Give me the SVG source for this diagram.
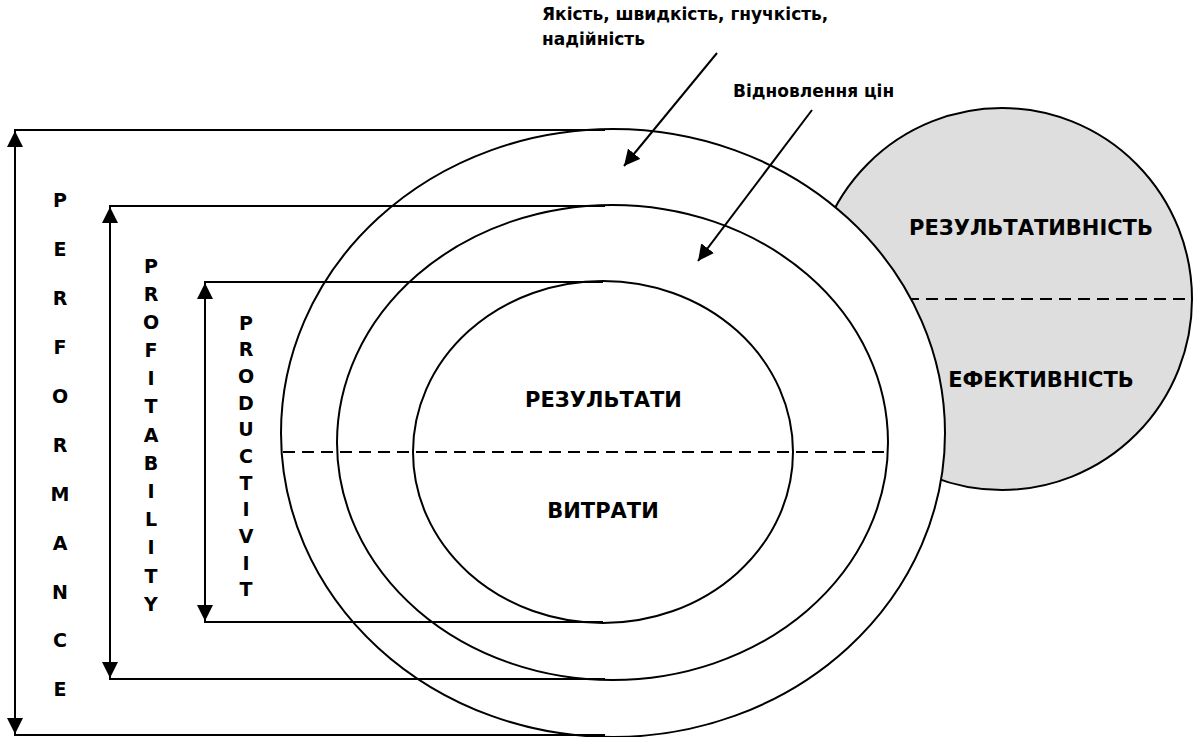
<svg xmlns="http://www.w3.org/2000/svg" width="1195" height="737" viewBox="0 0 1195 737">
<style>
.s{fill:none;stroke:#000;stroke-width:2}
.e{fill:#fff;stroke:#000;stroke-width:2}
.d{fill:none;stroke:#000;stroke-width:2;stroke-dasharray:12 7}
text{font-family:"DejaVu Sans","Noto Sans",sans-serif;font-weight:bold;fill:#000}
.v{font-size:19px;text-anchor:middle}
.b{font-size:21px;text-anchor:middle}
.t{font-size:17px}
</style>
<defs>
<marker id="ah" viewBox="0 0 10 10" refX="10" refY="5" markerWidth="16" markerHeight="16" markerUnits="userSpaceOnUse" orient="auto-start-reverse">
<path d="M0,0 L10,5 L0,10 z" fill="#000"/>
</marker>
</defs>
<g id="gray-circle">
<ellipse cx="1002" cy="299" rx="190" ry="191" fill="#dedede" stroke="#000" stroke-width="2"/>
<line class="d" x1="812" y1="299" x2="1192" y2="299"/>
<text class="b" x="1031" y="235">РЕЗУЛЬТАТИВНІСТЬ</text>
<text class="b" x="1041" y="387">ЕФЕКТИВНІСТЬ</text>
</g>
<g id="outer-ellipse"><ellipse class="e" cx="613" cy="433" rx="332" ry="304"/></g>
<g id="middle-ellipse"><ellipse class="e" cx="612.5" cy="442.5" rx="275.5" ry="237.5"/></g>
<g id="inner-ellipse"><ellipse class="e" cx="603" cy="452" rx="190" ry="171"/>
<text class="b" x="603.5" y="407">РЕЗУЛЬТАТИ</text>
<text class="b" x="603" y="518">ВИТРАТИ</text>
</g>
<g id="connectors">
<line class="d" x1="283" y1="452" x2="888" y2="452"/>
<polyline class="s" points="605,130 15,130 15,735 605,735"/>
<line class="s" x1="15" y1="131" x2="15" y2="734" marker-start="url(#ah)" marker-end="url(#ah)"/>
<polyline class="s" points="605,206 110,206 110,679 605,679"/>
<line class="s" x1="110" y1="207" x2="110" y2="678" marker-start="url(#ah)" marker-end="url(#ah)"/>
<polyline class="s" points="603,282 205,282 205,622 603,622"/>
<line class="s" x1="205" y1="283" x2="205" y2="621" marker-start="url(#ah)" marker-end="url(#ah)"/>
<line class="s" x1="717" y1="53" x2="624" y2="166" marker-end="url(#ah)"/>
<line class="s" x1="812" y1="110" x2="698" y2="261" marker-end="url(#ah)"/>
</g>
<g id="performance">
<text class="v" x="60" y="207">P</text>
<text class="v" x="60" y="256">E</text>
<text class="v" x="60" y="305">R</text>
<text class="v" x="60" y="354">F</text>
<text class="v" x="60" y="403">O</text>
<text class="v" x="60" y="452">R</text>
<text class="v" x="60" y="501">M</text>
<text class="v" x="60" y="550">A</text>
<text class="v" x="60" y="599">N</text>
<text class="v" x="60" y="647">C</text>
<text class="v" x="60" y="696">E</text>
</g>
<g id="profitability">
<text class="v" x="151" y="273">P</text>
<text class="v" x="151" y="301">R</text>
<text class="v" x="151" y="329">O</text>
<text class="v" x="151" y="357">F</text>
<text class="v" x="151" y="385">I</text>
<text class="v" x="151" y="413">T</text>
<text class="v" x="151" y="442">A</text>
<text class="v" x="151" y="470">B</text>
<text class="v" x="151" y="498">I</text>
<text class="v" x="151" y="526">L</text>
<text class="v" x="151" y="554">I</text>
<text class="v" x="151" y="583">T</text>
<text class="v" x="151" y="611">Y</text>
</g>
<g id="productivit">
<text class="v" x="246" y="330">P</text>
<text class="v" x="246" y="356">R</text>
<text class="v" x="246" y="383">O</text>
<text class="v" x="246" y="410">D</text>
<text class="v" x="246" y="436">U</text>
<text class="v" x="246" y="463">C</text>
<text class="v" x="246" y="490">T</text>
<text class="v" x="246" y="516">I</text>
<text class="v" x="246" y="543">V</text>
<text class="v" x="246" y="570">I</text>
<text class="v" x="246" y="596">T</text>
</g>
<g id="labels">
<text class="t" x="542" y="20">Якість, швидкість, гнучкість,</text>
<text class="t" x="542" y="45">надійність</text>
<text class="t" x="733" y="97">Відновлення цін</text>
</g>
</svg>
